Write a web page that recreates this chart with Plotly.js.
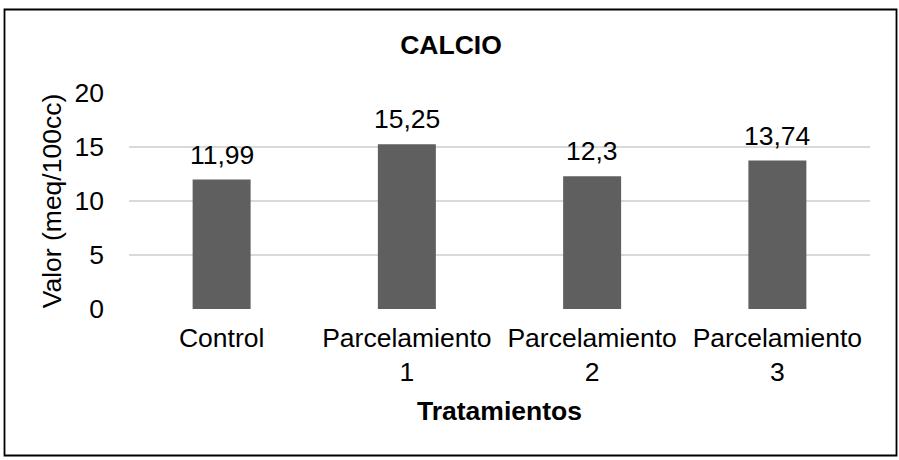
<!DOCTYPE html>
<html>
<head>
<meta charset="utf-8">
<script src="https://cdn.plot.ly/plotly-3.0.1.min.js"></script>
<style>html,body{margin:0;padding:0;background:#fff;}#chart{width:899px;height:460px;}</style>
</head>
<body>
<div id="chart"></div>
<script>
var categories = ["Control", "Parcelamiento 1", "Parcelamiento 2", "Parcelamiento 3"];
var tickLabels = ["Control", "Parcelamiento<br>1", "Parcelamiento<br>2", "Parcelamiento<br>3"];
var values = [11.99, 15.25, 12.3, 13.74];
var valueLabels = ["11,99", "15,25", "12,3", "13,74"];
var yTicks = [0, 5, 10, 15, 20];

var W = 899, H = 460;
var M = {l: 129, r: 29, t: 93, b: 151};
var pw = W - M.l - M.r, ph = H - M.t - M.b;
function px2x(p) { return (p - M.l) / pw; }
function py2y(p) { return (H - M.b - p) / ph; }

var font = "Arial, 'Liberation Sans', sans-serif";
var FS = 26.5;

var trace = {
  type: "bar",
  x: categories,
  y: values,
  marker: {color: "#5f5f5f"},
  hoverinfo: "x+y"
};

var annotations = categories.map(function (c, i) {
  return {
    x: c, y: values[i], xref: "x", yref: "y",
    text: valueLabels[i], showarrow: false,
    yanchor: "middle", yshift: 25,
    font: {family: font, size: FS, color: "#000"}
  };
});

var layout = {
  width: W, height: H,
  margin: M,
  paper_bgcolor: "#fff", plot_bgcolor: "#fff",
  separators: ", ",
  showlegend: false,
  bargap: 0.687,
  font: {family: font, size: FS, color: "#000"},
  title: {
    text: "<b>CALCIO</b>",
    font: {family: font, size: FS, color: "#000"},
    xref: "container", yref: "container",
    x: 451 / W, y: 1 - 45 / H, xanchor: "center", yanchor: "middle"
  },
  xaxis: {
    type: "category",
    tickvals: categories,
    ticktext: tickLabels,
    showgrid: false, zeroline: false, showline: false,
    ticks: "", ticklabelstandoff: 10,
    tickfont: {family: font, size: FS, color: "#000"},
    automargin: false,
    title: {text: "<b>Tratamientos</b>", font: {family: font, size: FS, color: "#000"}, standoff: 15}
  },
  yaxis: {
    range: [0, 20],
    tickvals: yTicks,
    showgrid: true, gridcolor: "#d9d9d9", gridwidth: 1.3,
    zeroline: false, showline: false,
    ticks: "", ticklabelstandoff: 24,
    tickfont: {family: font, size: FS, color: "#000"},
    automargin: false,
    title: {text: "Valor (meq/100cc)", font: {family: font, size: FS, color: "#000"}, standoff: 5}
  },
  annotations: annotations,
  shapes: [{
    type: "rect", xref: "paper", yref: "paper",
    x0: px2x(4.5), x1: px2x(896.5), y0: py2y(455.5), y1: py2y(9.5),
    line: {color: "#000", width: 1.8}, fillcolor: "rgba(0,0,0,0)", layer: "above"
  }]
};

Plotly.newPlot("chart", [trace], layout, {displayModeBar: false, staticPlot: true});
</script>
</body>
</html>
